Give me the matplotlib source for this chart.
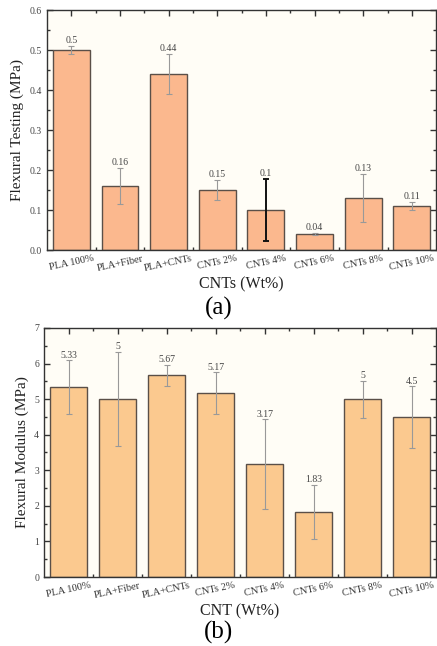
import numpy as np
import matplotlib.pyplot as plt
from matplotlib.ticker import MultipleLocator

plt.rcParams['font.family'] = ['Liberation Serif', 'DejaVu Serif']

categories = ['PLA 100%', 'PLA+Fiber', 'PLA+CNTs', 'CNTs 2%',
              'CNTs 4%', 'CNTs 6%', 'CNTs 8%', 'CNTs 10%']

# (a) flexural testing
testing_mean = [0.5, 0.16, 0.44, 0.15, 0.1, 0.04, 0.13, 0.11]
testing_err = [0.01, 0.046, 0.05, 0.026, 0.078, 0.003, 0.06, 0.01]
testing_labels = ['0.5', '0.16', '0.44', '0.15', '0.1', '0.04', '0.13', '0.11']

# (b) flexural modulus
modulus_mean = [5.33, 5.0, 5.67, 5.17, 3.17, 1.83, 5.0, 4.5]
modulus_err = [0.76, 1.33, 0.3, 0.58, 1.26, 0.76, 0.52, 0.86]
modulus_labels = ['5.33', '5', '5.67', '5.17', '3.17', '1.83', '5', '4.5']

ind = np.arange(len(categories))
width = 0.76

fig = plt.figure(figsize=(4.37, 6.46), dpi=100)
ax1 = fig.add_axes([0.1076, 0.613, 0.8905, 0.3715])
ax2 = fig.add_axes([0.1007, 0.1068, 0.8974, 0.3855])


def panel(ax, mean, err, labels, color, ylim, major, minor, ylabel, xlabel, fmt, off, thick=None):
    ax.set_facecolor('#fffdf6')
    ax.bar(ind, mean, width, color=color, edgecolor='#5a4f48', linewidth=1.0, zorder=2)
    for i in ind:
        if i == thick:
            c, lw = '#111111', 1.4
        else:
            c, lw = '#999999', 0.8
        ax.errorbar(i, mean[i], yerr=err[i], fmt='none', ecolor=c, elinewidth=lw,
                    capsize=2.5, capthick=lw, zorder=3)
        ax.text(i, mean[i] + err[i] + off, labels[i], ha='center', va='bottom',
                fontsize=7, color='#444444')
    ax.set_xlim(-0.5, 7.5)
    ax.set_ylim(*ylim)
    ax.yaxis.set_major_locator(MultipleLocator(major))
    ax.yaxis.set_minor_locator(MultipleLocator(minor))
    ax.yaxis.set_major_formatter(plt.FormatStrFormatter(fmt))
    ax.set_xticks(ind)
    ax.set_xticks(ind[:-1] + 0.5, minor=True)
    ax.set_xticklabels(categories, rotation=12, fontsize=7.5, color='#333333')
    ax.tick_params(axis='both', which='both', direction='in', top=True, right=True,
                   color='#333333')
    ax.tick_params(axis='both', which='major', length=4, width=1)
    ax.tick_params(axis='both', which='minor', length=2, width=1)
    ax.tick_params(axis='y', labelsize=7, labelcolor='#444444')
    ax.tick_params(axis='x', pad=3)
    for s in ax.spines.values():
        s.set_color('#333333')
        s.set_linewidth(1.0)
    ax.set_ylabel(ylabel, fontsize=11, color='#222222')
    ax.set_xlabel(xlabel, fontsize=11.5, color='#222222', labelpad=2)


panel(ax1, testing_mean, testing_err, testing_labels, '#fbb88e', (0, 0.6), 0.1, 0.05,
      'Flexural Testing (MPa)', 'CNTs (Wt%)', '%.1f', 0.002, thick=4)
panel(ax2, modulus_mean, modulus_err, modulus_labels, '#fbc98f', (0, 7), 1, 0.5,
      'Flexural Modulus (MPa)', 'CNT (Wt%)', '%d', 0.02)

fig.text(0.5, 1 - 308 / 646, '(a)', ha='center', va='center', fontsize=18)
fig.text(0.5, 1 - 632 / 646, '(b)', ha='center', va='center', fontsize=18)

fig.savefig('out.png', dpi=100, facecolor='white')
